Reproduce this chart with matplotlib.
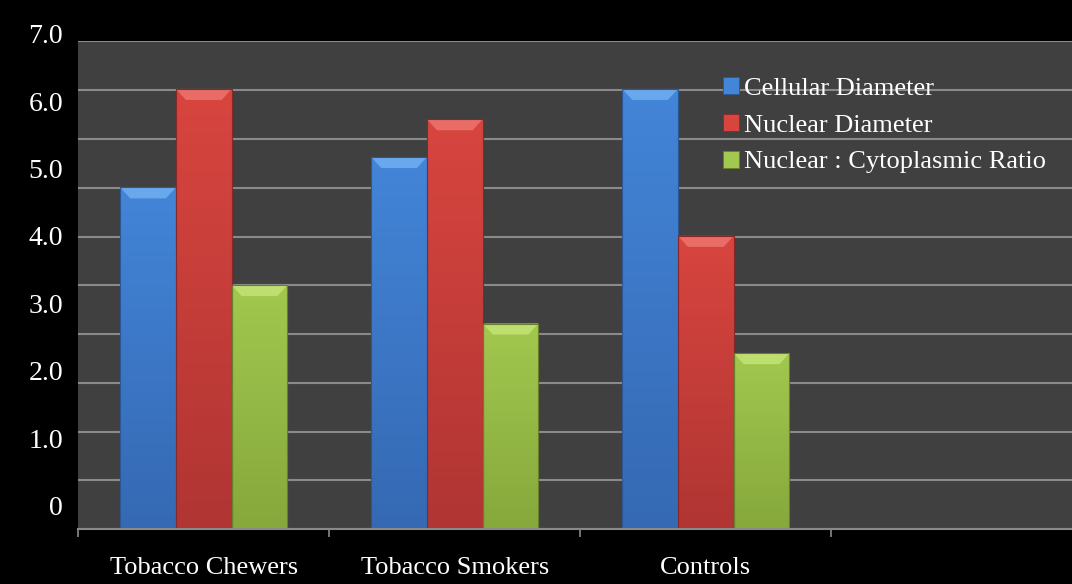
import numpy as np
import matplotlib
matplotlib.use("Agg")
import matplotlib.pyplot as plt
import matplotlib.transforms as mtransforms
from matplotlib.colors import LinearSegmentedColormap
from matplotlib.patches import Polygon, Rectangle

# ---------------- data ----------------
categories = ["Tobacco Chewers", "Tobacco Smokers", "Controls"]
series_names = ["Cellular Diameter", "Nuclear Diameter", "Nuclear : Cytoplasmic Ratio"]
cellular_diameter = [4.72, 5.17, 6.18]
nuclear_diameter = [6.18, 5.73, 4.00]
nc_ratio = [3.27, 2.70, 2.26]
ytick_values = [0, 1, 2, 3, 4, 5, 6, 7]
ytick_labels = ["0", "1.0", "2.0", "3.0", "4.0", "5.0", "6.0", "7.0"]

# ---------------- style ----------------
face_top = ["#4385D8", "#D8453F", "#A2C84F"]
face_bottom = ["#3569B3", "#B03533", "#86A83C"]
chamfer = ["#6AA8EE", "#E96C67", "#BEDF70"]
edge = ["#2B5894", "#86292A", "#66802C"]
grid_col = "#8A8A8A"
bg_plot = "#404040"
font = "Liberation Serif"

W, H, DPI = 10.72, 5.84, 100
fig = plt.figure(figsize=(W, H), dpi=DPI, facecolor="black")
ax_left, ax_bottom = 78.3 / 1072, (584 - 529.3) / 584
ax_w, ax_h = 1004 / 1072, 488 / 584
ax = fig.add_axes([ax_left, ax_bottom, ax_w, ax_h])
ax.set_facecolor(bg_plot)

y_lo, y_hi = -0.353, 6.887
n_slots = 4
x_lo, x_hi = -0.5, n_slots - 0.5

series = [cellular_diameter, nuclear_diameter, nc_ratio]
bar_w = 0.222
x = np.arange(len(categories))
px_per_y = ax_h * H * DPI / (y_hi - y_lo)
px_per_x = ax_w * W * DPI / (x_hi - x_lo)
dy = 11 / px_per_y
dx = 10 / px_per_x

handles = []
for i, (vals, name) in enumerate(zip(series, series_names)):
    vals = np.asarray(vals)
    pos = x + (i - 1) * bar_w
    bars = ax.bar(pos, vals - y_lo, bottom=y_lo, width=bar_w, color=face_top[i],
                  edgecolor=edge[i], linewidth=0.6, label=name, zorder=2)
    handles.append(bars)
    cmap = LinearSegmentedColormap.from_list(f"g{i}", [face_bottom[i], face_top[i]])
    grad = np.linspace(0, 1, 256).reshape(-1, 1)
    for rect in bars:
        x0, y0 = rect.get_x(), rect.get_y()
        w, h = rect.get_width(), rect.get_height()
        im = ax.imshow(grad, cmap=cmap, origin="lower", aspect="auto",
                       extent=[x0, x0 + w, y0, y0 + h], zorder=2.1, interpolation="bilinear")
        im.set_clip_path(rect)
        top = y0 + h
        ax.add_patch(Polygon([(x0, top), (x0 + w, top), (x0 + w - dx, top - dy), (x0 + dx, top - dy)],
                             closed=True, facecolor=chamfer[i], edgecolor="none", zorder=2.2))
        ax.add_patch(Rectangle((x0, y0), w, h, fill=False, edgecolor=edge[i], linewidth=0.8, zorder=2.3))

ax.set_xlim(x_lo, x_hi)
ax.set_ylim(y_lo, y_hi)

# gridlines: 10 equal intervals
ax.set_yticks(np.linspace(y_lo, y_hi, 11))
ax.set_yticklabels([])
ax.tick_params(axis="y", length=0)
ax.grid(axis="y", color=grid_col, linewidth=1.5, zorder=0.5)
ax.set_axisbelow(True)

# y labels (placed as text at their values)
trans = mtransforms.blended_transform_factory(ax.transAxes, ax.transData)
for v, lab in zip(ytick_values, ytick_labels):
    ax.text(-15.3 / 1004, v, lab, transform=trans, ha="right", va="center_baseline",
            color="white", fontsize=20, family=font, clip_on=False)

# x axis
ax.set_xticks(x)
ax.set_xticklabels(categories, fontsize=19, family=font, color="white")
ax.tick_params(axis="x", which="major", length=0, pad=20)
ax.set_xticks(np.arange(x_lo, x_hi + 0.01, 1.0), minor=True)
ax.tick_params(axis="x", which="minor", length=6, width=1.2, color=grid_col)

for s in ["left", "right", "top"]:
    ax.spines[s].set_visible(False)
ax.spines["bottom"].set_color(grid_col)
ax.spines["bottom"].set_linewidth(1.5)

leg = ax.legend(handles=handles, loc="upper left", bbox_to_anchor=(0.642, 0.926),
                frameon=False, prop={"family": font, "size": 19},
                handlelength=0.6, handleheight=0.6, handletextpad=0.2,
                labelspacing=0.53, borderaxespad=0, borderpad=0)
for t in leg.get_texts():
    t.set_color("white")

fig.savefig("out.png", dpi=DPI, facecolor="black")
